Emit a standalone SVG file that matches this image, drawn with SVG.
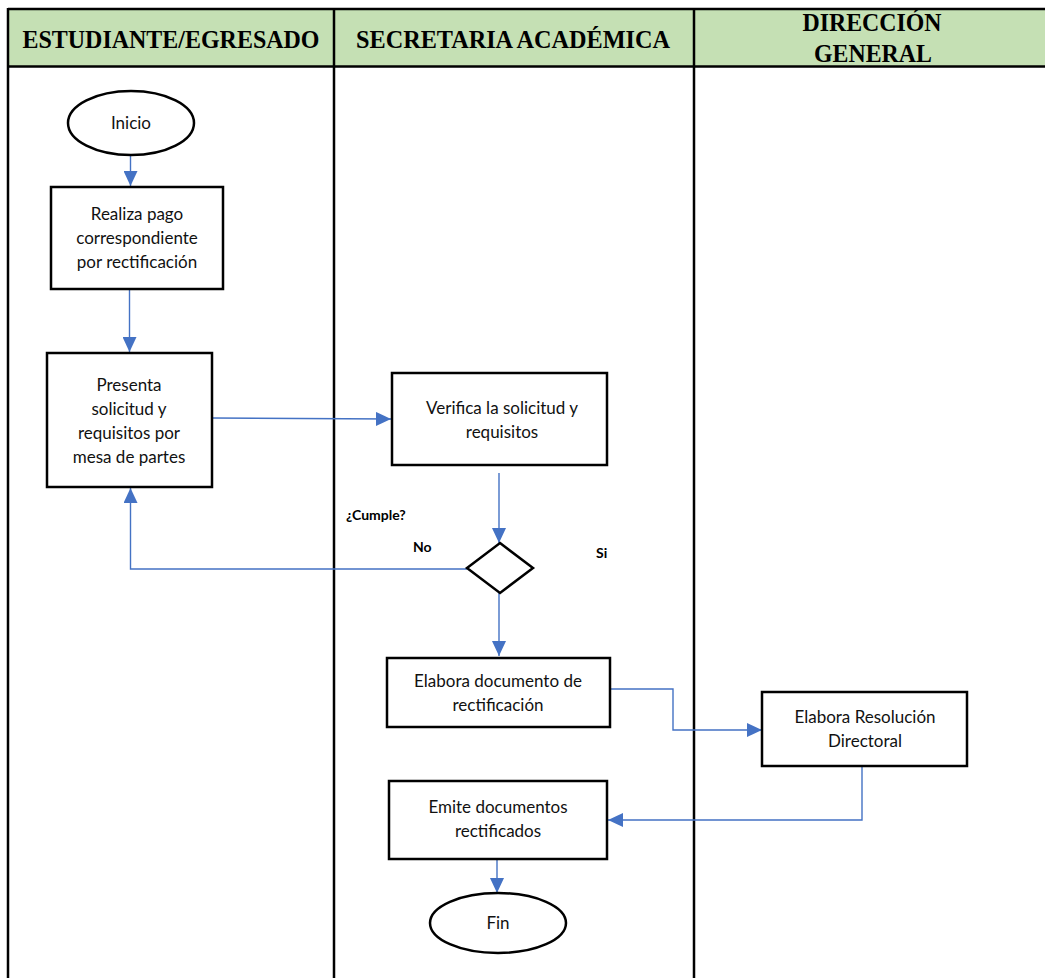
<svg xmlns="http://www.w3.org/2000/svg" width="1045" height="978" viewBox="0 0 1045 978">
  <style>
    .hdr { font-family: "Liberation Serif", "Times New Roman", serif; font-weight: bold; font-size: 25px; fill: #000; text-anchor: middle; }
    .lane { stroke: #000; stroke-width: 2.5; fill: none; }
    .box { fill: #fff; stroke: #000; stroke-width: 2.5; }
    .lbl { font-family: Lato, "Noto Sans", sans-serif; font-size: 17px; fill: #111; text-anchor: middle; }
    .cond { font-family: Lato, "Noto Sans", sans-serif; font-size: 14px; font-weight: bold; fill: #000; }
    .edge { stroke: #4472C4; stroke-width: 1.4; fill: none; }
  </style>
  <defs>
    <marker id="arrow" viewBox="0 0 15 14" refX="15" refY="7" markerWidth="15" markerHeight="14" markerUnits="userSpaceOnUse" orient="auto">
      <path d="M0,0 L15,7 L0,14 Z" fill="#4472C4"/>
    </marker>
  </defs>

  <rect width="1045" height="978" fill="#fff"/>

  <!-- swimlane header -->
  <g id="header">
    <rect x="8" y="9" width="1040" height="57" fill="#C5E0B4"/>
    <line class="lane" x1="8" y1="9" x2="1045" y2="9"/>
    <line class="lane" x1="8" y1="66.5" x2="1045" y2="66.5" stroke-width="3"/>
    <text class="hdr" x="171" y="48" textLength="297" lengthAdjust="spacingAndGlyphs">ESTUDIANTE/EGRESADO</text>
    <text class="hdr" x="513" y="48" textLength="314" lengthAdjust="spacingAndGlyphs">SECRETARIA ACADÉMICA</text>
    <text class="hdr" x="872" y="31" textLength="139" lengthAdjust="spacingAndGlyphs">DIRECCIÓN</text>
    <text class="hdr" x="873" y="62" textLength="118" lengthAdjust="spacingAndGlyphs">GENERAL</text>
  </g>

  <!-- lane separators -->
  <g id="lanes">
    <line class="lane" x1="8" y1="8" x2="8" y2="978"/>
    <line class="lane" x1="334" y1="8" x2="334" y2="978"/>
    <line class="lane" x1="694" y1="8" x2="694" y2="978"/>
  </g>

  <!-- connectors -->
  <g id="connectors">
    <path class="edge" d="M130.5,155 V186" marker-end="url(#arrow)"/>
    <path class="edge" d="M129.5,289 V352" marker-end="url(#arrow)"/>
    <path class="edge" d="M212,418 L391,419" marker-end="url(#arrow)"/>
    <path class="edge" d="M499,473 V543" marker-end="url(#arrow)"/>
    <path class="edge" d="M467,569 H130.5 V488" marker-end="url(#arrow)"/>
    <path class="edge" d="M499,593 V656" marker-end="url(#arrow)"/>
    <path class="edge" d="M610,689 H673 V730 H762" marker-end="url(#arrow)"/>
    <path class="edge" d="M862,766 V820 H608" marker-end="url(#arrow)"/>
    <path class="edge" d="M497,859 V893" marker-end="url(#arrow)"/>
  </g>

  <g id="inicio">
    <ellipse class="box" cx="131" cy="123" rx="63" ry="32"/>
    <text class="lbl" x="131" y="129">Inicio</text>
  </g>

  <g id="pago">
    <rect class="box" x="51" y="187" width="172" height="102"/>
    <text class="lbl" x="137" y="220">Realiza pago</text>
    <text class="lbl" x="137" y="244">correspondiente</text>
    <text class="lbl" x="137" y="268">por rectificación</text>
  </g>

  <g id="presenta">
    <rect class="box" x="47" y="353" width="165" height="134"/>
    <text class="lbl" x="129" y="391">Presenta</text>
    <text class="lbl" x="129" y="415">solicitud y</text>
    <text class="lbl" x="129" y="439">requisitos por</text>
    <text class="lbl" x="129" y="463">mesa de partes</text>
  </g>

  <g id="verifica">
    <rect class="box" x="392" y="373" width="215" height="92"/>
    <text class="lbl" x="502" y="414">Verifica la solicitud y</text>
    <text class="lbl" x="502" y="438">requisitos</text>
  </g>

  <g id="cumple">
    <polygon points="500,543 533,568 500,593 467,568" fill="#fff" stroke="#000" stroke-width="2.5"/>
    <text class="cond" x="346" y="520">¿Cumple?</text>
    <text class="cond" x="413" y="552">No</text>
    <text class="cond" x="596" y="558">Si</text>
  </g>

  <g id="elabora-doc">
    <rect class="box" x="387" y="658" width="223" height="69"/>
    <text class="lbl" x="498" y="687">Elabora documento de</text>
    <text class="lbl" x="498" y="711">rectificación</text>
  </g>

  <g id="resolucion">
    <rect class="box" x="762" y="692" width="205" height="74"/>
    <text class="lbl" x="865" y="723">Elabora Resolución</text>
    <text class="lbl" x="865" y="747">Directoral</text>
  </g>

  <g id="emite">
    <rect class="box" x="389" y="781" width="218" height="78"/>
    <text class="lbl" x="498" y="813">Emite documentos</text>
    <text class="lbl" x="498" y="837">rectificados</text>
  </g>

  <g id="fin">
    <ellipse class="box" cx="498" cy="923" rx="68" ry="30"/>
    <text class="lbl" x="498" y="929">Fin</text>
  </g>
</svg>
